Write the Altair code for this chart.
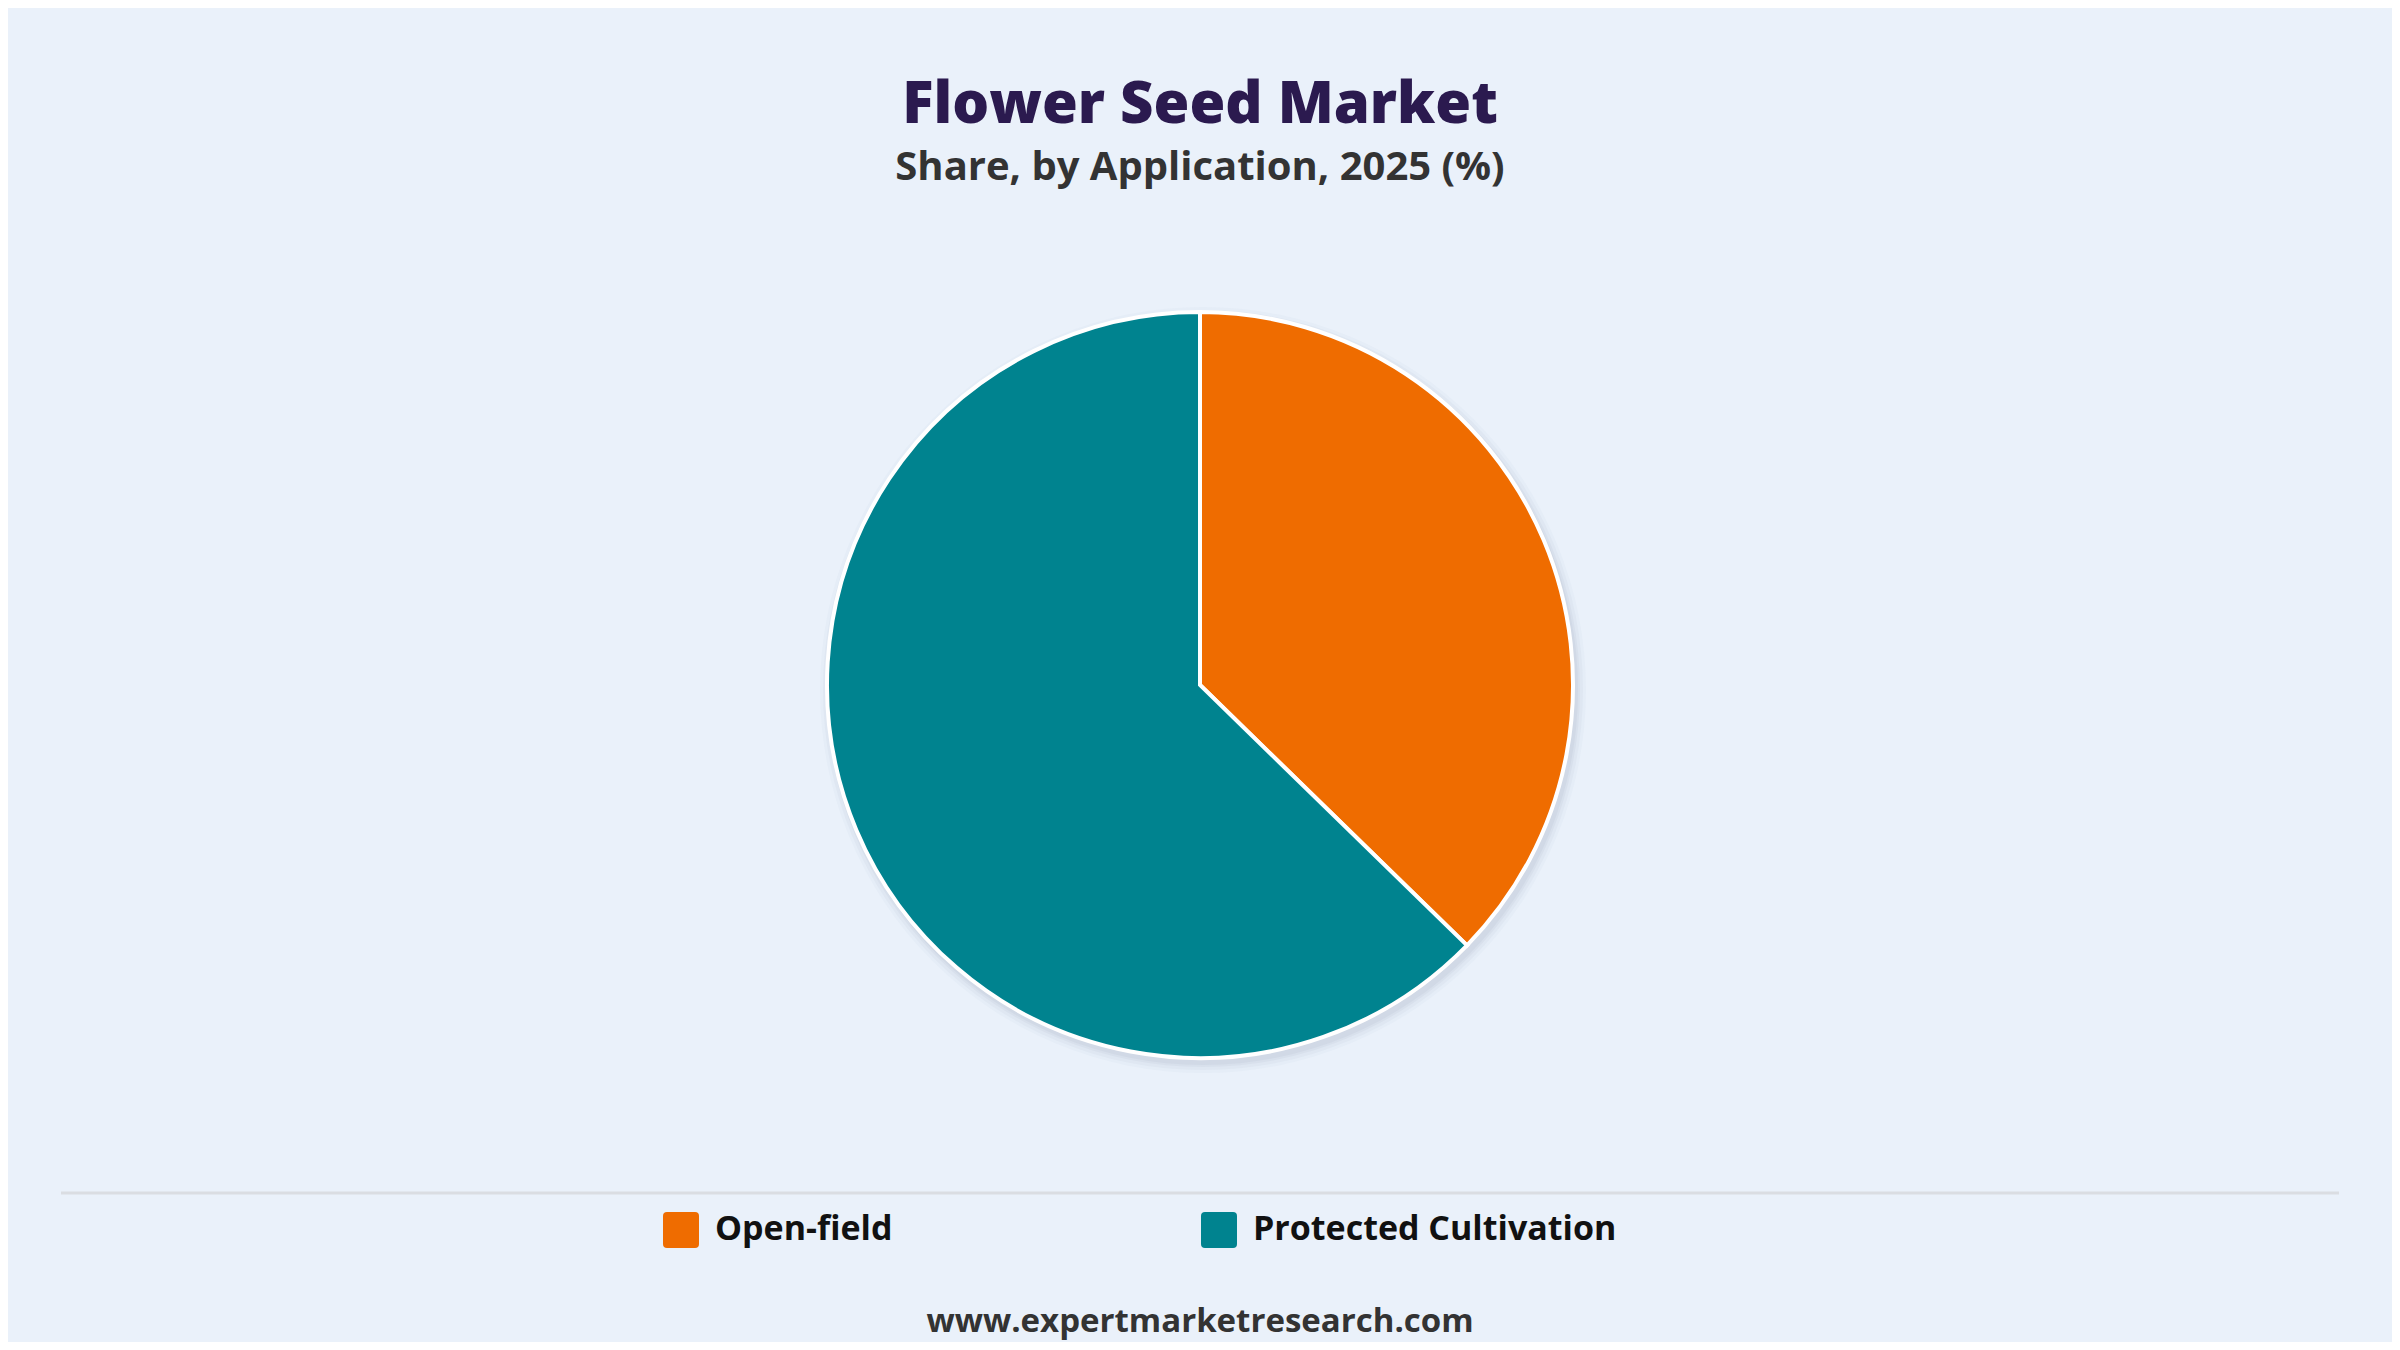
import altair as alt
import pandas as pd

# ---- data ----
categories = ["Open-field", "Protected Cultivation"]
shares = [37.3, 62.7]
colors = ["#EF6C00", "#00838F"]
order = [0, 1]

title_text = "Flower Seed Market"
subtitle_text = "Share, by Application, 2025 (%)"
footer_text = ["www.expertmarketresearch.com"]

df = pd.DataFrame({"Application": categories, "Share": shares, "order": order})
footer_df = pd.DataFrame({"t": footer_text})
one_df = pd.DataFrame({"k": [0]})

BG = "#EAF1FA"
FONT = "Open Sans"
W, H = 2384, 1134
CX, CY = 1192, 477
R = 373

rounded_square = ("M-0.78,-1 L0.78,-1 Q1,-1 1,-0.78 L1,0.78 Q1,1 0.78,1 "
                  "L-0.78,1 Q-1,1 -1,0.78 L-1,-0.78 Q-1,-1 -0.78,-1 Z")

# soft shadow behind the pie
shadows = []
for extra, op in [(10, 0.035), (7, 0.05), (4, 0.07), (2, 0.08)]:
    shadows.append(
        alt.Chart(one_df).mark_arc(theta=0, theta2=6.2832, radius=R + extra,
                                   color="#7d8ea3", opacity=op)
        .encode(x=alt.value(CX + 3), y=alt.value(CY + 5))
    )

pie = alt.Chart(df).mark_arc(radius=R, stroke="white", strokeWidth=4).encode(
    theta=alt.Theta("Share:Q", stack=True),
    order=alt.Order("order:Q"),
    color=alt.Color(
        "Application:N",
        scale=alt.Scale(domain=categories, range=colors),
        legend=alt.Legend(
            title=None,
            orient="none",
            legendX=655,
            legendY=1004,
            direction="horizontal",
            columnPadding=308,
            symbolType=rounded_square,
            symbolSize=1296,
            symbolStrokeWidth=0,
            symbolOpacity=1,
            labelFont=FONT,
            labelFontSize=34,
            labelFontWeight="bold",
            labelColor="#111111",
            labelOffset=16,
            labelLimit=800,
        ),
    ),
    x=alt.value(CX),
    y=alt.value(CY),
)

sep = alt.Chart(one_df).mark_rule(color="#DADDE2", strokeWidth=3).encode(
    x=alt.value(53), x2=alt.value(2331), y=alt.value(985)
)

footer = alt.Chart(footer_df).mark_text(
    font=FONT, fontSize=33, fontWeight="bold", color="#333333",
    align="center", baseline="alphabetic"
).encode(text="t:N", x=alt.value(CX), y=alt.value(1124))

chart = alt.layer(*shadows, pie, sep, footer).properties(
    width=W,
    height=H,
    autosize=alt.AutoSizeParams(type="none"),
    padding={"left": 0, "right": 0, "top": 200, "bottom": 0},
    background=BG,
    title=alt.TitleParams(
        text=title_text,
        subtitle=subtitle_text,
        anchor="middle",
        font=FONT,
        fontSize=58,
        fontWeight=800,
        color="#2B1A4F",
        subtitleFont=FONT,
        subtitleFontSize=40,
        subtitleFontWeight="bold",
        subtitleColor="#333333",
        subtitlePadding=13,
        offset=20,
    ),
).configure_view(stroke=None)

chart.save("out.html", embed_options={"renderer": "svg", "actions": False})
